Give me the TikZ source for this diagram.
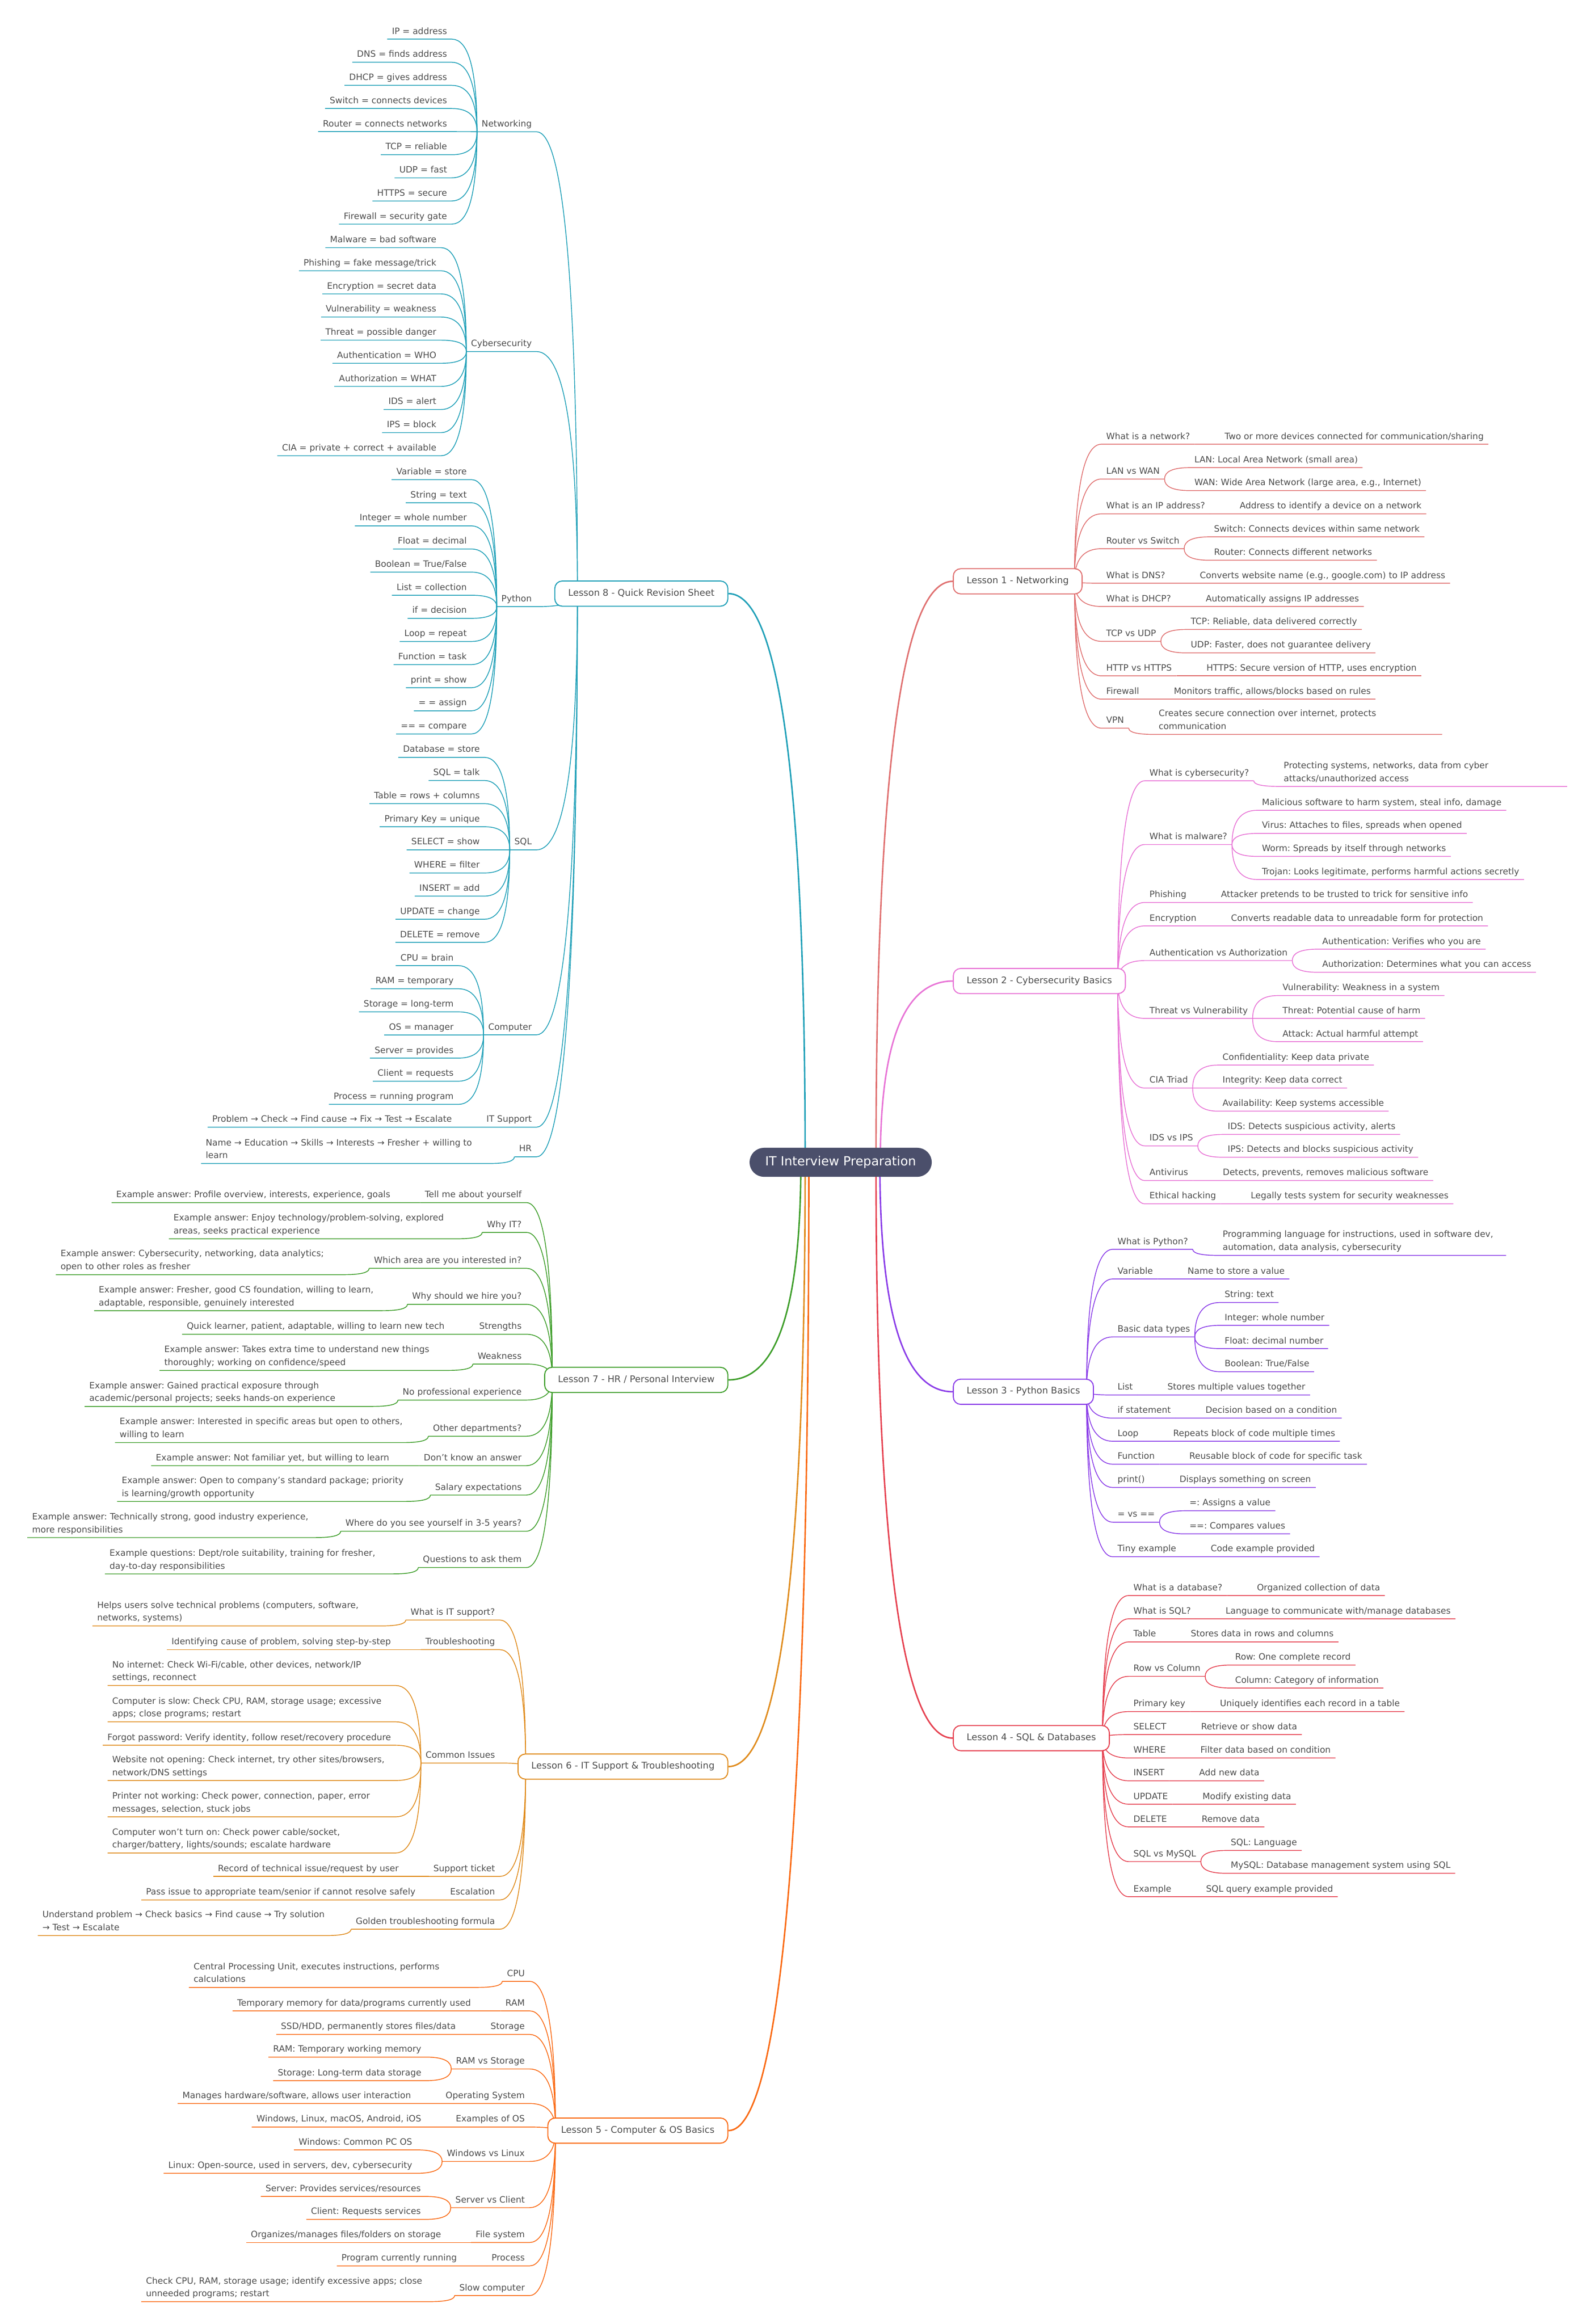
\documentclass[tikz,border=0pt]{standalone}
\usepackage{fontspec}
\setmainfont{DejaVu Sans}
\usepackage{tikz}
\usetikzlibrary{calc,backgrounds}
\frenchspacing
\definecolor{txt}{HTML}{4A4A4A}
\definecolor{hubc}{HTML}{4B4F6B}
\definecolor{l1c}{HTML}{E07070}
\definecolor{l2c}{HTML}{E874D6}
\definecolor{l3c}{HTML}{8A3CE8}
\definecolor{l4c}{HTML}{E64150}
\definecolor{l5c}{HTML}{FA6A14}
\definecolor{l6c}{HTML}{E08C1E}
\definecolor{l7c}{HTML}{3E9E2A}
\definecolor{l8c}{HTML}{20A0B8}
\colorlet{bc}{l1c}
\newcommand\leaffont{\fontsize{5.9}{8.7}\selectfont}
\newcommand\twol[2]{\parbox[b]{188pt}{\raggedright\mbox{#1}\\\mbox{#2}}}
% connector: bend from a point into a node's underline, then the underline itself
\newcommand\brR[2]{\begin{pgfonlayer}{background}\draw[twig] (#1) .. controls ($(#1)!.667!(#1|-#2.south west)$) and ($(#2.south west)!.667!(#1|-#2.south west)$) .. (#2.south west) -- (#2.south east);\end{pgfonlayer}}
\newcommand\brL[2]{\begin{pgfonlayer}{background}\draw[twig] (#1) .. controls ($(#1)!.667!(#1|-#2.south east)$) and ($(#2.south east)!.667!(#1|-#2.south east)$) .. (#2.south east) -- (#2.south west);\end{pgfonlayer}}
\newcommand\trunk[3]{\begin{pgfonlayer}{background}\draw[line width=1pt,draw=#1] (#2) .. controls ($(#2)!.667!(#2|-#3)$) and ($(#3)!.667!(#2|-#3)$) .. (#3);\end{pgfonlayer}}
\tikzset{
  leafr/.style ={font=\leaffont,text=txt,inner xsep=3pt,inner ysep=0pt,text depth=3.2pt,anchor=south west},
  leafl/.style ={leafr,anchor=south east},
  lesson/.style={draw=#1,fill=white,line width=.7pt,rounded corners=5pt,minimum height=17pt,inner xsep=9pt,inner ysep=0pt,text height=4.5pt,text depth=1.4pt,font=\fontsize{6.2}{7}\selectfont,text=txt},
  hubbox/.style={fill=hubc,text=white,rounded corners=9.8pt,minimum height=19.6pt,inner xsep=10.6pt,inner ysep=0pt,text height=6.2pt,text depth=1.9pt,font=\fontsize{8.5}{10}\selectfont},
  twig/.style  ={draw=bc,line width=.55pt},
}
\begin{document}
\begin{tikzpicture}[x=1pt,y=-1pt]
  \begin{pgfonlayer}{background}\fill[white](0,0) rectangle (1076,1568);\end{pgfonlayer}
  \useasboundingbox (0,0) rectangle (1076,1568);
  \node[hubbox](hub) at (567.15,784.2){IT Interview Preparation};
  \node[lesson=l1c,anchor=west](L1) at (642.8,392.2){Lesson 1 - Networking};
  \node[lesson=l2c,anchor=west](L2) at (642.8,661.9){Lesson 2 - Cybersecurity Basics};
  \node[lesson=l3c,anchor=west](L3) at (642.8,939){Lesson 3 - Python Basics};
  \node[lesson=l4c,anchor=west](L4) at (642.8,1172.7){Lesson 4 - SQL \& Databases};
  \node[lesson=l8c,anchor=east](L8) at (491.4,400.5){Lesson 8 - Quick Revision Sheet};
  \node[lesson=l7c,anchor=east](L7) at (491.4,931){Lesson 7 - HR / Personal Interview};
  \node[lesson=l6c,anchor=east](L6) at (491.4,1191.9){Lesson 6 - IT Support \& Troubleshooting};
  \node[lesson=l5c,anchor=east](L5) at (491.4,1437.5){Lesson 5 - Computer \& OS Basics};
  \trunk{l1c}{591,784.2}{L1.west}   \trunk{l2c}{593.9,784.2}{L2.west}
  \trunk{l3c}{593.6,784.2}{L3.west} \trunk{l4c}{591,784.2}{L4.west}
  \trunk{l8c}{543.2,784.2}{L8.east} \trunk{l7c}{540.3,784.2}{L7.east}
  \trunk{l6c}{543.2,784.2}{L6.east} \trunk{l5c}{545.7,784.2}{L5.east}

  % Lesson 1
  \colorlet{bc}{l1c}
  \coordinate (L1o) at ($(L1.east)+(-5.5,0)$);
  \foreach \lbl/\u [count=\i] in {What is a network?/299.7,LAN vs WAN/323.2,What is an IP address?/346.7,Router vs Switch/370.2,What is DNS?/393.5,What is DHCP?/409.2,TCP vs UDP/432.7,HTTP vs HTTPS/456.0,Firewall/471.7,VPN/491.3}
    {\node[leafr](a\i) at ($(L1.east|-0,\u)+(12.7,0)$){\lbl}; \brR{L1o}{a\i}}
  \node[leafr](a1-1) at ($(a1.south east)+(17,0)$){Two or more devices connected for communication/sharing};
  \node[leafr](a2-1) at ($(a2.south east|-0,315.5)+(17,0)$){LAN: Local Area Network (small area)};
  \node[leafr](a2-2) at ($(a2.south east|-0,331.0)+(17,0)$){WAN: Wide Area Network (large area, e.g., Internet)};
  \node[leafr](a3-1) at ($(a3.south east)+(17,0)$){Address to identify a device on a network};
  \node[leafr](a4-1) at ($(a4.south east|-0,362.2)+(17,0)$){Switch: Connects devices within same network};
  \node[leafr](a4-2) at ($(a4.south east|-0,378.0)+(17,0)$){Router: Connects different networks};
  \node[leafr](a5-1) at ($(a5.south east)+(17,0)$){Converts website name (e.g., google.com) to IP address};
  \node[leafr](a6-1) at ($(a6.south east)+(17,0)$){Automatically assigns IP addresses};
  \node[leafr](a7-1) at ($(a7.south east|-0,424.7)+(17,0)$){TCP: Reliable, data delivered correctly};
  \node[leafr](a7-2) at ($(a7.south east|-0,440.5)+(17,0)$){UDP: Faster, does not guarantee delivery};
  \node[leafr](a8-1) at ($(a8.south east)+(17,0)$){HTTPS: Secure version of HTTP, uses encryption};
  \node[leafr](a9-1) at ($(a9.south east)+(17,0)$){Monitors traffic, allows/blocks based on rules};
  \node[leafr](a10-1) at ($(a10.south east)+(17,4.2)$){\twol{Creates secure connection over internet, protects}{communication}};
  \foreach \pa/\ch in {a1/a1-1,a2/a2-1,a2/a2-2,a3/a3-1,a4/a4-1,a4/a4-2,a5/a5-1,a6/a6-1,a7/a7-1,a7/a7-2,a8/a8-1,a9/a9-1,a10/a10-1}
    {\brR{\pa.south east}{\ch}}

  % Lesson 2
  \colorlet{bc}{l2c}
  \coordinate (L2o) at ($(L2.east)+(-5.5,0)$);
  \foreach \lbl/\u [count=\i] in {What is cybersecurity?/526.8,What is malware?/569.8,Phishing/608.9,Encryption/624.7,Authentication vs Authorization/648.1,Threat vs Vulnerability/687.1,CIA Triad/734.1,IDS vs IPS/773.1,Antivirus/796.5,Ethical hacking/812.2}
    {\node[leafr](b\i) at ($(L2.east|-0,\u)+(12.7,0)$){\lbl}; \brR{L2o}{b\i}}
  \node[leafr](b1-1) at ($(b1.south east)+(17,3.8)$){\twol{Protecting systems, networks, data from cyber}{attacks/unauthorized access}};
  \node[leafr](b2-1) at ($(b2.south east|-0,546.7)+(17,0)$){Malicious software to harm system, steal info, damage};
  \node[leafr](b2-2) at ($(b2.south east|-0,562.3)+(17,0)$){Virus: Attaches to files, spreads when opened};
  \node[leafr](b2-3) at ($(b2.south east|-0,577.8)+(17,0)$){Worm: Spreads by itself through networks};
  \node[leafr](b2-4) at ($(b2.south east|-0,593.4)+(17,0)$){Trojan: Looks legitimate, performs harmful actions secretly};
  \node[leafr](b3-1) at ($(b3.south east)+(17,0)$){Attacker pretends to be trusted to trick for sensitive info};
  \node[leafr](b4-1) at ($(b4.south east)+(17,0)$){Converts readable data to unreadable form for protection};
  \node[leafr](b5-1) at ($(b5.south east|-0,640.4)+(17,0)$){Authentication: Verifies who you are};
  \node[leafr](b5-2) at ($(b5.south east|-0,656.0)+(17,0)$){Authorization: Determines what you can access};
  \node[leafr](b6-1) at ($(b6.south east|-0,671.7)+(17,0)$){Vulnerability: Weakness in a system};
  \node[leafr](b6-2) at ($(b6.south east)+(17,0)$){Threat: Potential cause of harm};
  \node[leafr](b6-3) at ($(b6.south east|-0,702.8)+(17,0)$){Attack: Actual harmful attempt};
  \node[leafr](b7-1) at ($(b7.south east|-0,718.6)+(17,0)$){Confidentiality: Keep data private};
  \node[leafr](b7-2) at ($(b7.south east)+(17,0)$){Integrity: Keep data correct};
  \node[leafr](b7-3) at ($(b7.south east|-0,749.7)+(17,0)$){Availability: Keep systems accessible};
  \node[leafr](b8-1) at ($(b8.south east|-0,765.4)+(17,0)$){IDS: Detects suspicious activity, alerts};
  \node[leafr](b8-2) at ($(b8.south east|-0,780.8)+(17,0)$){IPS: Detects and blocks suspicious activity};
  \node[leafr](b9-1) at ($(b9.south east)+(17,0)$){Detects, prevents, removes malicious software};
  \node[leafr](b10-1) at ($(b10.south east)+(17,0)$){Legally tests system for security weaknesses};
  \foreach \pa/\ch in {b1/b1-1,b2/b2-1,b2/b2-2,b2/b2-3,b2/b2-4,b3/b3-1,b4/b4-1,b5/b5-1,b5/b5-2,b6/b6-1,b6/b6-2,b6/b6-3,b7/b7-1,b7/b7-2,b7/b7-3,b8/b8-1,b8/b8-2,b9/b9-1,b10/b10-1}
    {\brR{\pa.south east}{\ch}}

  % Lesson 3
  \colorlet{bc}{l3c}
  \coordinate (L3o) at ($(L3.east)+(-5,0)$);
  \foreach \lbl/\u [count=\i] in {What is Python?/842.9,Variable/862.9,Basic data types/902.0,List/941.2,if statement/956.8,Loop/972.4,Function/987.9,print()/1003.6,= vs ==/1027.0,Tiny example/1050.3}
    {\node[leafr](c\i) at ($(L3.east|-0,\u)+(12.7,0)$){\lbl}; \brR{L3o}{c\i}}
  \node[leafr](c1-1) at ($(c1.south east)+(17,4.1)$){\twol{Programming language for instructions, used in software dev,}{automation, data analysis, cybersecurity}};
  \node[leafr](c2-1) at ($(c2.south east)+(17,0)$){Name to store a value};
  \node[leafr](c3-1) at ($(c3.south east|-0,878.8)+(17,0)$){String: text};
  \node[leafr](c3-2) at ($(c3.south east|-0,894.2)+(17,0)$){Integer: whole number};
  \node[leafr](c3-3) at ($(c3.south east|-0,909.9)+(17,0)$){Float: decimal number};
  \node[leafr](c3-4) at ($(c3.south east|-0,925.5)+(17,0)$){Boolean: True/False};
  \node[leafr](c4-1) at ($(c4.south east)+(17,0)$){Stores multiple values together};
  \node[leafr](c5-1) at ($(c5.south east)+(17,0)$){Decision based on a condition};
  \node[leafr](c6-1) at ($(c6.south east)+(17,0)$){Repeats block of code multiple times};
  \node[leafr](c7-1) at ($(c7.south east)+(17,0)$){Reusable block of code for specific task};
  \node[leafr](c8-1) at ($(c8.south east)+(17,0)$){Displays something on screen};
  \node[leafr](c9-1) at ($(c9.south east|-0,1019.3)+(17,0)$){=: Assigns a value};
  \node[leafr](c9-2) at ($(c9.south east|-0,1034.9)+(17,0)$){==: Compares values};
  \node[leafr](c10-1) at ($(c10.south east)+(17,0)$){Code example provided};
  \foreach \pa/\ch in {c1/c1-1,c2/c2-1,c3/c3-1,c3/c3-2,c3/c3-3,c3/c3-4,c4/c4-1,c5/c5-1,c6/c6-1,c7/c7-1,c8/c8-1,c9/c9-1,c9/c9-2,c10/c10-1}
    {\brR{\pa.south east}{\ch}}

  % Lesson 4
  \colorlet{bc}{l4c}
  \coordinate (L4o) at ($(L4.east)+(-5,0)$);
  \foreach \lbl/\u [count=\i] in {What is a database?/1076.5,What is SQL?/1092.2,Table/1107.8,Row vs Column/1131.0,Primary key/1154.8,SELECT/1170.3,WHERE/1186.1,INSERT/1201.5,UPDATE/1217.3,DELETE/1232.6,SQL vs MySQL/1256.0,Example/1279.7}
    {\node[leafr](d\i) at ($(L4.east|-0,\u)+(12.7,0)$){\lbl}; \brR{L4o}{d\i}}
  \node[leafr](d1-1) at ($(d1.south east)+(17,0)$){Organized collection of data};
  \node[leafr](d2-1) at ($(d2.south east)+(17,0)$){Language to communicate with/manage databases};
  \node[leafr](d3-1) at ($(d3.south east)+(17,0)$){Stores data in rows and columns};
  \node[leafr](d4-1) at ($(d4.south east|-0,1123.4)+(17,0)$){Row: One complete record};
  \node[leafr](d4-2) at ($(d4.south east|-0,1138.9)+(17,0)$){Column: Category of information};
  \node[leafr](d5-1) at ($(d5.south east)+(17,0)$){Uniquely identifies each record in a table};
  \node[leafr](d6-1) at ($(d6.south east)+(17,0)$){Retrieve or show data};
  \node[leafr](d7-1) at ($(d7.south east)+(17,0)$){Filter data based on condition};
  \node[leafr](d8-1) at ($(d8.south east)+(17,0)$){Add new data};
  \node[leafr](d9-1) at ($(d9.south east)+(17,0)$){Modify existing data};
  \node[leafr](d10-1) at ($(d10.south east)+(17,0)$){Remove data};
  \node[leafr](d11-1) at ($(d11.south east|-0,1248.5)+(17,0)$){SQL: Language};
  \node[leafr](d11-2) at ($(d11.south east|-0,1263.9)+(17,0)$){MySQL: Database management system using SQL};
  \node[leafr](d12-1) at ($(d12.south east)+(17,0)$){SQL query example provided};
  \foreach \pa/\ch in {d1/d1-1,d2/d2-1,d3/d3-1,d4/d4-1,d4/d4-2,d5/d5-1,d6/d6-1,d7/d7-1,d8/d8-1,d9/d9-1,d10/d10-1,d11/d11-1,d11/d11-2,d12/d12-1}
    {\brR{\pa.south east}{\ch}}

  % Lesson 8
  \colorlet{bc}{l8c}
  \coordinate (L8o) at ($(L8.west)+(15.6,0)$);
  \foreach \lbl/\u [count=\i] in {Networking/88.9,Cybersecurity/237.2,Python/409.3,SQL/573.4,Computer/698.2,IT Support/760.5,HR/780.5}
    {\node[leafl](q\i) at ($(L8.west|-0,\u)+(-12,0)$){\lbl}; \brL{L8o}{q\i}}
  \foreach \lbl [count=\i] in {IP = address,DNS = finds address,DHCP = gives address,Switch = connects devices,Router = connects networks,TCP = reliable,UDP = fast,HTTPS = secure,Firewall = security gate}
    {\node[leafl](q1-\i) at ($(q1.south west|-0,{26.4+15.6*(\i-1)})+(-17,0)$){\lbl}; \brL{q1.south west}{q1-\i}}
  \foreach \lbl [count=\i] in {Malware = bad software,Phishing = fake message/trick,Encryption = secret data,Vulnerability = weakness,Threat = possible danger,Authentication = WHO,Authorization = WHAT,IDS = alert,IPS = block,CIA = private + correct + available}
    {\node[leafl](q2-\i) at ($(q2.south west|-0,{167.1+15.6*(\i-1)})+(-17,0)$){\lbl}; \brL{q2.south west}{q2-\i}}
  \foreach \lbl [count=\i] in {Variable = store,String = text,Integer = whole number,Float = decimal,Boolean = True/False,List = collection,if = decision,Loop = repeat,Function = task,print = show,= = assign,== = compare}
    {\node[leafl](q3-\i) at ($(q3.south west|-0,{323.6+15.6*(\i-1)})+(-17,0)$){\lbl}; \brL{q3.south west}{q3-\i}}
  \foreach \lbl [count=\i] in {Database = store,SQL = talk,Table = rows + columns,Primary Key = unique,SELECT = show,WHERE = filter,INSERT = add,UPDATE = change,DELETE = remove}
    {\node[leafl](q4-\i) at ($(q4.south west|-0,{511+15.6*(\i-1)})+(-17,0)$){\lbl}; \brL{q4.south west}{q4-\i}}
  \foreach \lbl [count=\i] in {CPU = brain,RAM = temporary,Storage = long-term,OS = manager,Server = provides,Client = requests,Process = running program}
    {\node[leafl](q5-\i) at ($(q5.south west|-0,{651.5+15.6*(\i-1)})+(-17,0)$){\lbl}; \brL{q5.south west}{q5-\i}}
  \node[leafl](q6-1) at ($(q6.south west)+(-17,0)$){Problem → Check → Find cause → Fix → Test → Escalate};
  \node[leafl](q7-1) at ($(q7.south west)+(-17,4.5)$){\twol{Name → Education → Skills → Interests → Fresher + willing to}{learn}};
  \brL{q6.south west}{q6-1} \brL{q7.south west}{q7-1}

  % Lesson 7
  \colorlet{bc}{l7c}
  \coordinate (L7o) at ($(L7.west)+(5.5,0)$);
  \foreach \lbl/\u [count=\i] in {Tell me about yourself/811.4,Why IT?/831.5,Which area are you interested in?/855.7,Why should we hire you?/880.0,Strengths/900.2,Weakness/920.3,No professional experience/944.6,Other departments?/969.0,Don't know an answer/988.9,Salary expectations/1008.7,Where do you see yourself in 3-5 years?/1033.1,Questions to ask them/1057.6}
    {\node[leafl](h\i) at ($(L7.west|-0,\u)+(-12,0)$){\lbl}; \brL{L7o}{h\i}}
  \node[leafl](h1-1) at ($(h1.south west)+(-17,0)$){Example answer: Profile overview, interests, experience, goals};
  \node[leafl](h2-1) at ($(h2.south west)+(-17,4.3)$){\twol{Example answer: Enjoy technology/problem-solving, explored}{areas, seeks practical experience}};
  \node[leafl](h3-1) at ($(h3.south west)+(-17,4.3)$){\twol{Example answer: Cybersecurity, networking, data analytics;}{open to other roles as fresher}};
  \node[leafl](h4-1) at ($(h4.south west)+(-17,4.3)$){\twol{Example answer: Fresher, good CS foundation, willing to learn,}{adaptable, responsible, genuinely interested}};
  \node[leafl](h5-1) at ($(h5.south west)+(-17,0)$){Quick learner, patient, adaptable, willing to learn new tech};
  \node[leafl](h6-1) at ($(h6.south west)+(-17,4.3)$){\twol{Example answer: Takes extra time to understand new things}{thoroughly; working on confidence/speed}};
  \node[leafl](h7-1) at ($(h7.south west)+(-17,4.3)$){\twol{Example answer: Gained practical exposure through}{academic/personal projects; seeks hands-on experience}};
  \node[leafl](h8-1) at ($(h8.south west)+(-17,4.3)$){\twol{Example answer: Interested in specific areas but open to others,}{willing to learn}};
  \node[leafl](h9-1) at ($(h9.south west)+(-17,0)$){Example answer: Not familiar yet, but willing to learn};
  \node[leafl](h10-1) at ($(h10.south west)+(-17,4.3)$){\twol{Example answer: Open to company's standard package; priority}{is learning/growth opportunity}};
  \node[leafl](h11-1) at ($(h11.south west)+(-17,4.3)$){\twol{Example answer: Technically strong, good industry experience,}{more responsibilities}};
  \node[leafl](h12-1) at ($(h12.south west)+(-17,4.3)$){\twol{Example questions: Dept/role suitability, training for fresher,}{day-to-day responsibilities}};
  \foreach \i in {1,...,12} {\brL{h\i.south west}{h\i-1}}

  % Lesson 6
  \colorlet{bc}{l6c}
  \coordinate (L6o) at ($(L6.west)+(5.5,0)$);
  \foreach \lbl/\u [count=\i] in {What is IT support?/1093.0,Troubleshooting/1113.0,Common Issues/1189.5,Support ticket/1266.0,Escalation/1281.9,Golden troubleshooting formula/1301.6}
    {\node[leafl](s\i) at ($(L6.west|-0,\u)+(-12,0)$){\lbl}; \brL{L6o}{s\i}}
  \node[leafl](s1-1) at ($(s1.south west)+(-17,4.0)$){\twol{Helps users solve technical problems (computers, software,}{networks, systems)}};
  \node[leafl](s2-1) at ($(s2.south west)+(-17,0)$){Identifying cause of problem, solving step-by-step};
  \node[leafl](s3-1) at ($(s3.south west|-0,1137.2)+(-17,0)$){\twol{No internet: Check Wi-Fi/cable, other devices, network/IP}{settings, reconnect}};
  \node[leafl](s3-2) at ($(s3.south west|-0,1161.7)+(-17,0)$){\twol{Computer is slow: Check CPU, RAM, storage usage; excessive}{apps; close programs; restart}};
  \node[leafl](s3-3) at ($(s3.south west|-0,1177.5)+(-17,0)$){Forgot password: Verify identity, follow reset/recovery procedure};
  \node[leafl](s3-4) at ($(s3.south west|-0,1201.3)+(-17,0)$){\twol{Website not opening: Check internet, try other sites/browsers,}{network/DNS settings}};
  \node[leafl](s3-5) at ($(s3.south west|-0,1225.8)+(-17,0)$){\twol{Printer not working: Check power, connection, paper, error}{messages, selection, stuck jobs}};
  \node[leafl](s3-6) at ($(s3.south west|-0,1250.2)+(-17,0)$){\twol{Computer won't turn on: Check power cable/socket,}{charger/battery, lights/sounds; escalate hardware}};
  \node[leafl](s4-1) at ($(s4.south west)+(-17,0)$){Record of technical issue/request by user};
  \node[leafl](s5-1) at ($(s5.south west)+(-17,0)$){Pass issue to appropriate team/senior if cannot resolve safely};
  \node[leafl](s6-1) at ($(s6.south west)+(-17,4.3)$){\twol{Understand problem → Check basics → Find cause → Try solution}{→ Test → Escalate}};
  \foreach \pa/\ch in {s1/s1-1,s2/s2-1,s3/s3-1,s3/s3-2,s3/s3-3,s3/s3-4,s3/s3-5,s3/s3-6,s4/s4-1,s5/s5-1,s6/s6-1}
    {\brL{\pa.south west}{\ch}}

  % Lesson 5
  \colorlet{bc}{l5c}
  \coordinate (L5o) at ($(L5.west)+(5.5,0)$);
  \foreach \lbl/\u [count=\i] in {CPU/1336.8,RAM/1356.7,Storage/1372.6,RAM vs Storage/1395.9,Operating System/1419.2,Examples of OS/1435.1,Windows vs Linux/1458.3,Server vs Client/1489.5,File system/1513.0,Process/1528.8,Slow computer/1548.8}
    {\node[leafl](p\i) at ($(L5.west|-0,\u)+(-12,0)$){\lbl}; \brL{L5o}{p\i}}
  \node[leafl](p1-1) at ($(p1.south west)+(-17,4.1)$){\twol{Central Processing Unit, executes instructions, performs}{calculations}};
  \node[leafl](p2-1) at ($(p2.south west)+(-17,0)$){Temporary memory for data/programs currently used};
  \node[leafl](p3-1) at ($(p3.south west)+(-17,0)$){SSD/HDD, permanently stores files/data};
  \node[leafl](p4-1) at ($(p4.south west|-0,1387.9)+(-17,0)$){RAM: Temporary working memory};
  \node[leafl](p4-2) at ($(p4.south west|-0,1403.8)+(-17,0)$){Storage: Long-term data storage};
  \node[leafl](p5-1) at ($(p5.south west)+(-17,0)$){Manages hardware/software, allows user interaction};
  \node[leafl](p6-1) at ($(p6.south west)+(-17,0)$){Windows, Linux, macOS, Android, iOS};
  \node[leafl](p7-1) at ($(p7.south west|-0,1450.5)+(-17,0)$){Windows: Common PC OS};
  \node[leafl](p7-2) at ($(p7.south west|-0,1466.3)+(-17,0)$){Linux: Open-source, used in servers, dev, cybersecurity};
  \node[leafl](p8-1) at ($(p8.south west|-0,1481.9)+(-17,0)$){Server: Provides services/resources};
  \node[leafl](p8-2) at ($(p8.south west|-0,1497.4)+(-17,0)$){Client: Requests services};
  \node[leafl](p9-1) at ($(p9.south west)+(-17,0)$){Organizes/manages files/folders on storage};
  \node[leafl](p10-1) at ($(p10.south west)+(-17,0)$){Program currently running};
  \node[leafl](p11-1) at ($(p11.south west)+(-17,4.1)$){\twol{Check CPU, RAM, storage usage; identify excessive apps; close}{unneeded programs; restart}};
  \foreach \pa/\ch in {p1/p1-1,p2/p2-1,p3/p3-1,p4/p4-1,p4/p4-2,p5/p5-1,p6/p6-1,p7/p7-1,p7/p7-2,p8/p8-1,p8/p8-2,p9/p9-1,p10/p10-1,p11/p11-1}
    {\brL{\pa.south west}{\ch}}
\end{tikzpicture}
\end{document}
